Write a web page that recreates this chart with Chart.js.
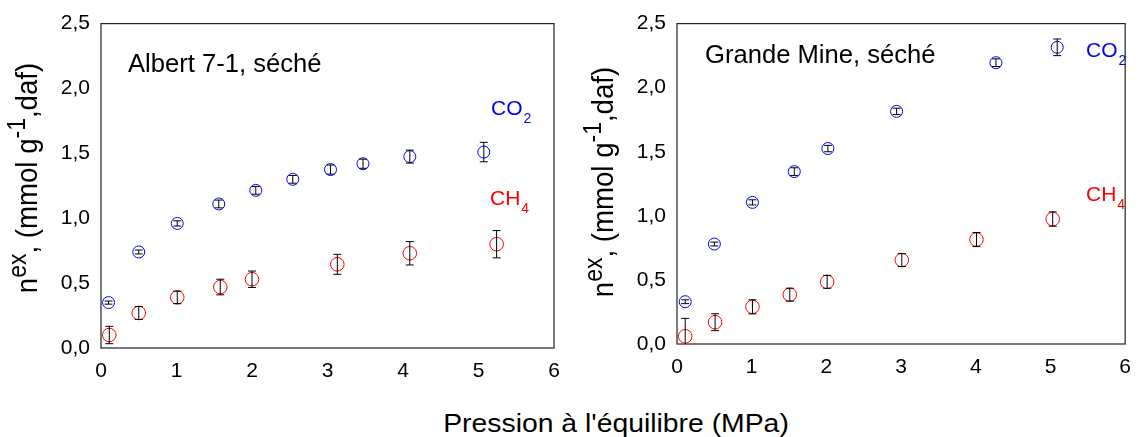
<!DOCTYPE html>
<html>
<head>
<meta charset="utf-8">
<script src="https://cdn.jsdelivr.net/npm/chart.js@4.4.0/dist/chart.umd.min.js"></script>
<style>
  body { margin: 0; background: #fff; width: 1142px; height: 437px; overflow: hidden; position: relative; }
  .box { position: absolute; top: 0; width: 571px; height: 395px; }
  #xtitle { position: absolute; left: 416px; width: 400px; top: 408px; line-height: 30px; text-align: center;
            font-family: Arial, "Liberation Sans", sans-serif; font-size: 26px; color: #000;
            transform: scaleX(1.09); transform-origin: 200px 0; }
</style>
</head>
<body>
<div class="box" style="left:0"><canvas id="albert"></canvas></div>
<div class="box" style="left:571px"><canvas id="grande"></canvas></div>
<div id="xtitle">Pression à l'équilibre (MPa)</div>
<script>
// pression (MPa), n ex (mmol/g daf), barre d'erreur (+/-)
const albertCO2P = [0.10, 0.50, 1.01, 1.56, 2.05, 2.54, 3.04, 3.47, 4.09, 5.07]
const albertCO2N = [0.35, 0.74, 0.96, 1.11, 1.215, 1.30, 1.375, 1.42, 1.475, 1.51]
const albertCO2E = [0.012, 0.015, 0.02, 0.03, 0.03, 0.03, 0.035, 0.035, 0.05, 0.075]

const albertCH4P = [0.11, 0.50, 1.01, 1.58, 2.00, 3.13, 4.09, 5.24]
const albertCH4N = [0.10, 0.27, 0.39, 0.47, 0.53, 0.645, 0.73, 0.80]
const albertCH4E = [0.067, 0.05, 0.048, 0.06, 0.063, 0.077, 0.09, 0.105]

const grandeCO2P = [0.11, 0.50, 1.01, 1.57, 2.02, 2.94, 4.27, 5.09]
const grandeCO2N = [0.33, 0.78, 1.105, 1.345, 1.525, 1.815, 2.195, 2.315]
const grandeCO2E = [0.015, 0.015, 0.02, 0.03, 0.025, 0.025, 0.03, 0.065]

const grandeCH4P = [0.11, 0.51, 1.01, 1.51, 2.01, 3.01, 4.01, 5.03]
const grandeCH4N = [0.06, 0.17, 0.29, 0.385, 0.485, 0.655, 0.815, 0.975]
const grandeCH4E = [0.14, 0.066, 0.055, 0.05, 0.05, 0.05, 0.055, 0.056]

const xTicks = [0, 1, 2, 3, 4, 5, 6]
const yTicks = ['0,0', '0,5', '1,0', '1,5', '2,0', '2,5']

const FONT = 'Arial, "Liberation Sans", sans-serif'

function pts(xs, ys, es) {
  return xs.map((x, i) => ({ x: x, y: ys[i], err: es[i] }))
}

// frame, error bars and the texts with sub/superscripts
const decoPlugin = {
  id: 'deco',
  beforeDatasetsDraw(chart) {
    const { ctx, chartArea: a } = chart
    ctx.save()
    ctx.strokeStyle = '#222'
    ctx.lineWidth = 1.2
    ctx.strokeRect(a.left, a.top, a.right - a.left, a.bottom - a.top)
    ctx.restore()
  },
  afterDatasetsDraw(chart, args, o) {
    const { ctx, chartArea: a, scales } = chart
    ctx.save()
    ctx.beginPath()
    ctx.rect(a.left, a.top, a.right - a.left, a.bottom - a.top)
    ctx.clip()
    ctx.strokeStyle = '#000'
    ctx.lineWidth = 1
    chart.data.datasets.forEach(ds => {
      ds.data.forEach(p => {
        const x = scales.x.getPixelForValue(p.x)
        const y1 = scales.y.getPixelForValue(p.y - p.err)
        const y2 = scales.y.getPixelForValue(p.y + p.err)
        ctx.beginPath()
        ctx.moveTo(x, y1); ctx.lineTo(x, y2)
        ctx.moveTo(x - 4, y1); ctx.lineTo(x + 4, y1)
        ctx.moveTo(x - 4, y2); ctx.lineTo(x + 4, y2)
        ctx.stroke()
      })
    })
    ctx.restore()

    ctx.save()
    ctx.textBaseline = 'alphabetic'
    ctx.fillStyle = '#000'
    ctx.font = '25.6px ' + FONT
    ctx.fillText(o.title, o.titleX, o.titleY)

    o.gases.forEach(g => {
      ctx.fillStyle = g.color
      ctx.font = '21px ' + FONT
      ctx.fillText(g.main, g.x, g.y)
      const w = ctx.measureText(g.main).width
      ctx.font = '14px ' + FONT
      ctx.fillText(g.sub, g.x + w + 1, g.y + 8)
    })

    // y title, rotated
    const parts = [
      { t: 'n', s: 30, dy: 0 },
      { t: 'ex', s: 25, dy: -11 },
      { t: ', (mmol g', s: 30, dy: 0 },
      { t: '-1', s: 25, dy: -12 },
      { t: ',daf)', s: 30, dy: 0 }
    ]
    let total = 0
    parts.forEach(p => { ctx.font = p.s + 'px ' + FONT; p.w = ctx.measureText(p.t).width; total += p.w })
    ctx.translate(o.yTitleX, o.yTitleY)
    ctx.rotate(-Math.PI / 2)
    ctx.scale(0.92, 1)
    ctx.fillStyle = '#000'
    let cx = -total / 2
    parts.forEach(p => {
      ctx.font = p.s + 'px ' + FONT
      ctx.fillText(p.t, cx, p.dy)
      cx += p.w
    })
    ctx.restore()
  }
}

function makeChart(id, co2, ch4, yAxisWidth, xAxisHeight, pad, deco) {
  return new Chart(document.getElementById(id), {
    type: 'scatter',
    data: {
      datasets: [
        { label: 'CO2', data: co2, borderColor: '#0000ff', backgroundColor: 'rgba(0,0,0,0)',
          borderWidth: 1, pointRadius: 6, pointHoverRadius: 6 },
        { label: 'CH4', data: ch4, borderColor: '#ff0000', backgroundColor: 'rgba(0,0,0,0)',
          borderWidth: 1, pointRadius: 6.8, pointHoverRadius: 6.8 }
      ]
    },
    options: {
      responsive: true,
      maintainAspectRatio: false,
      animation: false,
      layout: { padding: pad },
      scales: {
        x: {
          type: 'linear', min: 0, max: 6,
          grid: { display: false, drawTicks: false },
          border: { display: false },
          afterBuildTicks: s => { s.ticks = xTicks.map(v => ({ value: v })) },
          ticks: { color: '#000', padding: 11, font: { family: FONT, size: 21 }, callback: v => String(v) },
          afterFit: s => { s.height = xAxisHeight }
        },
        y: {
          min: 0, max: 2.5,
          grid: { display: false, drawTicks: false },
          border: { display: false },
          afterBuildTicks: s => { s.ticks = yTicks.map((t, i) => ({ value: i * 0.5 })) },
          ticks: { color: '#000', padding: 11, font: { family: FONT, size: 21 }, callback: (v, i) => yTicks[i] },
          afterFit: s => { s.width = yAxisWidth }
        }
      },
      plugins: {
        legend: { display: false },
        tooltip: { enabled: false },
        deco: deco
      }
    },
    plugins: [decoPlugin]
  })
}

makeChart('albert',
  pts(albertCO2P, albertCO2N, albertCO2E), pts(albertCH4P, albertCH4N, albertCH4E),
  101, 47, { top: 23, right: 17, left: 0, bottom: 0 },
  {
    title: 'Albert 7-1, séché', titleX: 128, titleY: 72,
    gases: [
      { main: 'CO', sub: '2', color: '#0000ff', x: 491, y: 115 },
      { main: 'CH', sub: '4', color: '#ff0000', x: 490, y: 205 }
    ],
    yTitleX: 37, yTitleY: 178
  })

makeChart('grande',
  pts(grandeCO2P, grandeCO2N, grandeCO2E), pts(grandeCH4P, grandeCH4N, grandeCH4E),
  106, 51, { top: 18, right: 10, left: 0, bottom: 0 },
  {
    title: 'Grande Mine, séché', titleX: 134, titleY: 63,
    gases: [
      { main: 'CO', sub: '2', color: '#0000ff', x: 515, y: 57 },
      { main: 'CH', sub: '4', color: '#ff0000', x: 515, y: 201 }
    ],
    yTitleX: 42, yTitleY: 182
  })
</script>
</body>
</html>
